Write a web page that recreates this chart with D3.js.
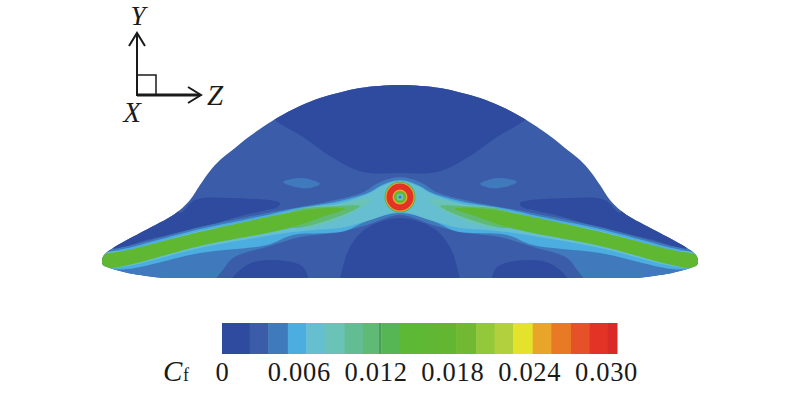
<!DOCTYPE html>
<html>
<head>
<meta charset="utf-8">
<script src="https://cdn.jsdelivr.net/npm/d3@7"></script>
<style>
  html, body { margin: 0; background: #fff; }
  text { font-family: "Liberation Serif", serif; fill: #1a1a1a; }
</style>
</head>
<body>
<div id="vis"></div>
<script>
// colour levels of the Cf legend
const cfThresholds = [0.0021, 0.0035, 0.0050, 0.0064, 0.0078, 0.0093, 0.0107, 0.0121, 0.0135, 0.0150,
  0.0164, 0.0178, 0.0193, 0.0207, 0.0221, 0.0236, 0.0250, 0.0265, 0.0279, 0.0293];
const cfColors = ['#2f4b9f', '#3a5ca9', '#3f7abc', '#4bade0', '#66bfd0', '#6ac3b6', '#62bd94',
  '#5fba75', '#55b653', '#5db835', '#60b733', '#62b631', '#72b933', '#93c83a', '#b2d03e',
  '#e4e22b', '#e9a42a', '#e97a25', '#e5522a', '#e33326', '#d92a28'];
const cfTicks = [0, 0.006, 0.012, 0.018, 0.024, 0.030];

// wall outline, left half, [z, y]
const outlineHalf = [[-238, 1], [-272, 6], [-293, 12], [-297, 14], [-298, 19], [-296, 24], [-287, 31],
  [-260, 46], [-230, 62], [-220, 69], [-210, 79], [-200, 94], [-190, 108], [-180, 119], [-165, 131],
  [-150, 143], [-123, 161], [-100, 173], [-80, 181], [-60, 186.5], [-40, 191], [0, 194]];

// contour bands crossing the centre line: upper and lower edge, left half
const domeUpper = [[-140, 175], [-70, 215], [0, 220]];
const domeLower = [[-125, 159], [-97, 142], [-67, 121], [-37, 107], [0, 106]];
const archUpper = [[-62, -10], [-60, 0], [-50, 32], [-33, 51], [0, 61]];
const archLower = [[-62, -15], [0, -15]];
const band3Upper = [[-300, 26], [-296, 28], [-272, 33], [-200, 52], [-133, 66], [-100, 72], [-60, 80],
  [-36, 87], [-22, 96], [0, 102]];
const band3Lower = [[-300, 10], [-238, -6], [-190, -4], [-178, 8], [-167, 21], [-130, 33], [-100, 42],
  [-60, 47], [-33, 54], [0, 64]];
const band4Upper = [[-300, 24], [-295, 26], [-272, 31], [-200, 50], [-133, 64], [-107, 70], [-60, 78],
  [-30, 87], [-20, 93], [0, 99]];
const band4Lower = [[-300, 17], [-293, 11], [-272, 10], [-200, 26], [-133, 34], [-107, 44], [-73, 46],
  [-55, 48], [-33, 58], [0, 66]];
const band5Upper = [[-295, 25], [-272, 29], [-200, 48], [-133, 62], [-107, 68], [-60, 76], [-30, 86],
  [-20, 92], [0, 98]];
const band5Lower = [[-293, 12], [-272, 13], [-200, 31], [-133, 43], [-107, 47], [-87, 49], [-60, 51],
  [-33, 58], [0, 67]];

// closed patches on the left, drawn again mirrored on the right
const darkWing = [[-220, 66], [-205, 79], [-170, 81], [-120, 76], [-122, 72], [-133, 69], [-167, 61],
  [-200, 50], [-250, 40], [-287, 30], [-260, 60], [-225, 85]];
const darkFoot = [[-170, -5], [-153, 14], [-130, 19], [-97, 12], [-93, -5], [-130, -10]];
const lightSpot = [[-117, 97], [-100, 101], [-85, 98], [-80, 95], [-90, 91], [-105, 92]];
const wing6 = [[-100, 68], [-60, 75], [-28, 80], [-60, 60], [-100, 52]];
const wing7 = [[-110, 66], [-60, 73], [-40, 73], [-60, 63], [-110, 52]];
const wingGreen = [[-302, 22], [-295, 25], [-272, 29], [-205, 46], [-133, 62], [-107, 67], [-75, 71],
  [-55, 70], [-75, 63], [-107, 52], [-133, 46], [-200, 33], [-272, 14], [-293, 11], [-302, 15]];

// rings round the hole
const ringCentre = [0, 82];
const ringRadii = [15.5, 14.5, 13.5, 7.5, 6, 3.5, 1.5];
const ringCf = [0.0128, 0.0243, 0.0285, 0.0243, 0.0157, 0.0085, 0.0045];

const width = 800;
const height = 396;

const svg = d3.select('#vis')
  .append('svg')
  .attr('width', width)
  .attr('height', height)
  .style('display', 'block');

const z = d3.scaleLinear().domain([-300, 300]).range([100, 700]);
const y = d3.scaleLinear().domain([0, 200]).range([279, 79]);
const radius = d3.scaleLinear().domain([0, 300]).range([0, 300]);
const color = d3.scaleThreshold().domain(cfThresholds).range(cfColors);

const closedLine = d3.line()
  .x((d) => z(d[0]))
  .y((d) => y(d[1]))
  .curve(d3.curveCatmullRomClosed.alpha(0.5));
const openLine = d3.line()
  .x((d) => z(d[0]))
  .y((d) => y(d[1]))
  .curve(d3.curveCatmullRom.alpha(0.5));

const flip = (pts) => pts.map((d) => [-d[0], d[1]]);

// upper edge left to right, lower edge back again
function bandShape(upper, lower) {
  return [
    ...upper,
    ...flip(upper).reverse().slice(1),
    ...flip(lower),
    ...lower.slice().reverse().slice(1),
  ];
}

const outlinePts = [...outlineHalf, ...flip(outlineHalf).reverse().slice(1)];
const outlinePath = openLine(outlinePts) + 'Z';

const defs = svg.append('defs');
defs.append('clipPath').attr('id', 'wall')
  .append('path').attr('d', outlinePath);
// the contours are soft in the scan
defs.append('filter').attr('id', 'soft')
  .append('feGaussianBlur').attr('stdDeviation', 0.6);

svg.append('path').attr('d', outlinePath).attr('fill', color(0.003));

const field = svg.append('g')
  .attr('clip-path', 'url(#wall)')
  .append('g')
  .attr('filter', 'url(#soft)');

function addShape(pts, cf) {
  field.append('path').attr('d', closedLine(pts)).attr('fill', color(cf));
}
function addPair(pts, cf) {
  addShape(pts, cf);
  addShape(flip(pts), cf);
}

addShape(bandShape(domeUpper, domeLower), 0.001);
addShape(bandShape(archUpper, archLower), 0.001);
addPair(darkWing, 0.001);
addPair(darkFoot, 0.001);
addPair(lightSpot, 0.004);
addShape(bandShape(band3Upper, band3Lower), 0.004);
addShape(bandShape(band4Upper, band4Lower), 0.0055);
addShape(bandShape(band5Upper, band5Lower), 0.007);
addPair(wing6, 0.0085);
addPair(wing7, 0.0115);
addPair(wingGreen, 0.0157);

field.selectAll('circle.ring')
  .data(ringRadii)
  .enter()
  .append('circle')
  .attr('class', 'ring')
  .attr('cx', z(ringCentre[0]))
  .attr('cy', y(ringCentre[1]))
  .attr('r', (d) => radius(d))
  .attr('fill', (d, i) => color(ringCf[i]));

// legend
const legendX = d3.scaleLinear().domain([0, 0.030]).range([222, 617]);
const legendEdges = [0, ...cfThresholds, 0.030];
const legendTop = 323;
const legendBottom = 354;

svg.selectAll('rect.cell')
  .data(cfColors)
  .enter()
  .append('rect')
  .attr('class', 'cell')
  .attr('x', (d, i) => legendX(legendEdges[i]))
  .attr('y', legendTop)
  .attr('width', (d, i) => legendX(legendEdges[i + 1]) - legendX(legendEdges[i]) + 0.5)
  .attr('height', legendBottom - legendTop)
  .attr('fill', (d) => d);

svg.append('line')
  .attr('x1', legendX(0.012))
  .attr('x2', legendX(0.012))
  .attr('y1', legendTop)
  .attr('y2', legendBottom)
  .attr('stroke', '#3c7f47')
  .attr('stroke-width', 1);

// tick labels sit tighter than the bar itself
const labelX = d3.scaleLinear().domain([0, 0.030]).range([222, 606]);
const labelAxis = d3.axisBottom(labelX)
  .tickValues(cfTicks)
  .tickFormat((d) => (d === 0 ? '0' : d3.format('.3f')(d)))
  .tickSize(0)
  .tickPadding(0);

const axisG = svg.append('g')
  .attr('transform', 'translate(0,' + 362 + ')')
  .call(labelAxis);
axisG.select('.domain').remove();
axisG.selectAll('text')
  .attr('font-size', 26.5)
  .attr('font-family', '"Liberation Serif", serif')
  .style('letter-spacing', '0.7px')
  .attr('dy', '0.71em')
  .attr('y', 0);

svg.append('text')
  .attr('x', 163).attr('y', 381)
  .attr('font-size', 29)
  .attr('font-style', 'italic')
  .text('C');
svg.append('text')
  .attr('x', 183).attr('y', 381)
  .attr('font-size', 18)
  .text('f');

// coordinate triad
const triad = svg.append('g')
  .attr('fill', 'none')
  .attr('stroke', '#1a1a1a')
  .attr('stroke-width', 2);
triad.append('path').attr('d', 'M137,96V33M129,46L137,33L145,46');
triad.append('path').attr('d', 'M137,95H200').attr('stroke-width', 3);
triad.append('path').attr('d', 'M188,87L201,95L188,103');
triad.append('path').attr('d', 'M137,75H156V95').attr('stroke-width', 1.5);

const triadLabels = [
  {t: 'Y', x: 138, y: 25, s: 27},
  {t: 'Z', x: 215, y: 105, s: 29},
  {t: 'X', x: 132, y: 122, s: 29},
];
svg.selectAll('text.triad')
  .data(triadLabels)
  .enter()
  .append('text')
  .attr('class', 'triad')
  .attr('x', (d) => d.x)
  .attr('y', (d) => d.y)
  .attr('text-anchor', 'middle')
  .attr('font-size', (d) => d.s)
  .attr('font-style', 'italic')
  .text((d) => d.t);
</script>
</body>
</html>
